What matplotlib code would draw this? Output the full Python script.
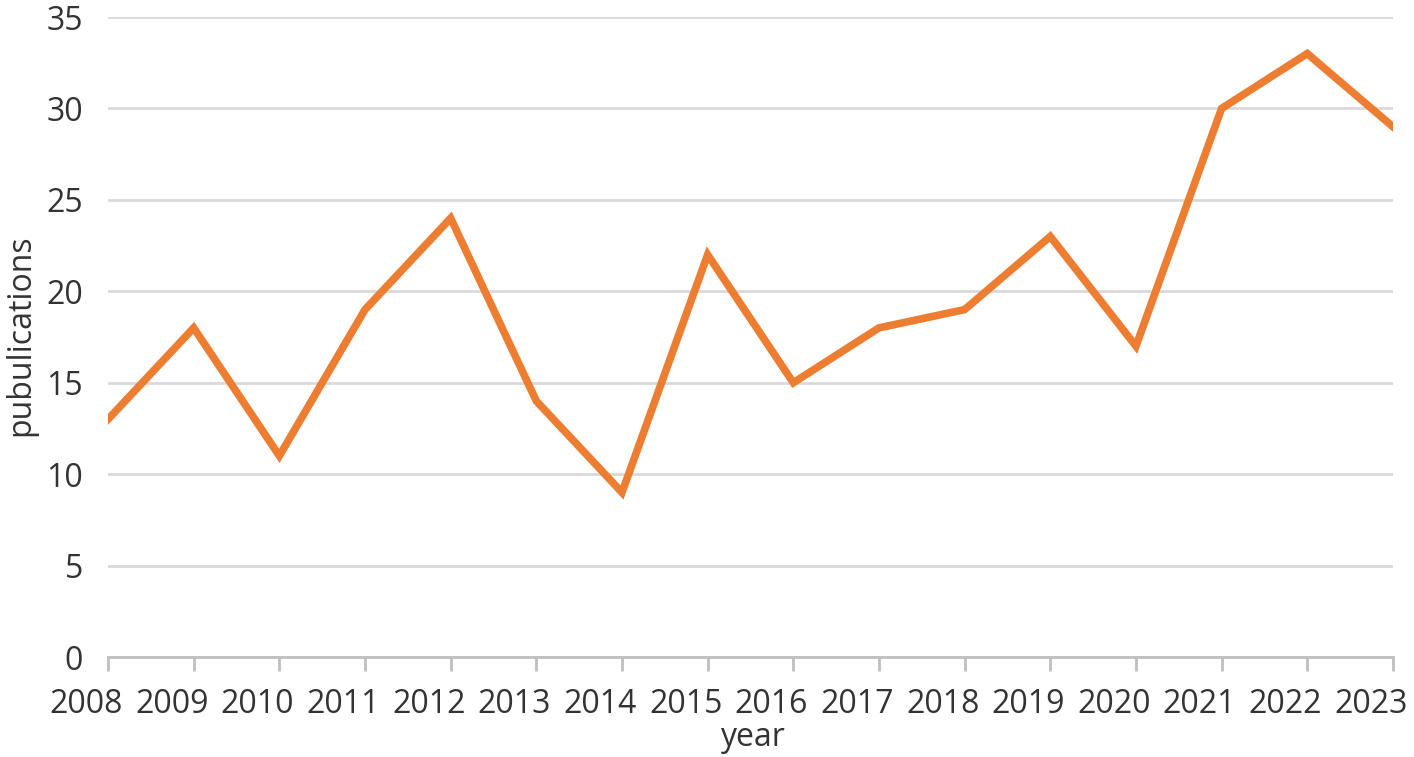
import matplotlib
matplotlib.use("Agg")
import matplotlib.pyplot as plt
import matplotlib.transforms as mtransforms

years = [2008, 2009, 2010, 2011, 2012, 2013, 2014, 2015, 2016, 2017, 2018, 2019, 2020, 2021, 2022, 2023]
publications = [13, 18, 11, 19, 24, 14, 9, 22, 15, 18, 19, 23, 17, 30, 33, 29]
y_ticks = [0, 5, 10, 15, 20, 25, 30, 35]

plt.rcParams['font.family'] = ['Open Sans', 'DejaVu Sans']
text_color = '#333333'

fig = plt.figure(figsize=(14.14, 7.57), dpi=100)
ax = fig.add_axes([0.0764, 0.1321, 0.9087, 0.8454])

ax.plot(years, publications, color='#ED7D31', linewidth=5.5, solid_joinstyle='miter', zorder=3)

ax.set_xlim(years[0], years[-1])
ax.set_ylim(0, 35)
ax.set_yticks(y_ticks)
ax.set_xticks(years)
ax.set_xticklabels([str(y) for y in years])

ax.grid(axis='y', color='#d9d9d9', linewidth=2)
ax.set_axisbelow(True)
for s in ['left', 'right', 'top']:
    ax.spines[s].set_visible(False)
ax.spines['bottom'].set_color('#bfbfbf')
ax.spines['bottom'].set_linewidth(2)

ax.tick_params(axis='x', colors='#bfbfbf', length=10, width=2, direction='out', pad=12,
               labelcolor=text_color, labelsize=23)
ax.tick_params(axis='y', length=0, pad=18, labelcolor=text_color, labelsize=23)

# Shift x tick labels left as in the reference
offset = mtransforms.ScaledTranslation(-22 / 100, 0, fig.dpi_scale_trans)
for lbl in ax.get_xticklabels():
    lbl.set_transform(lbl.get_transform() + offset)

fig.text(752 / 1414, 1 - 738 / 757, 'year', ha='center', va='center', fontsize=23, color=text_color)
fig.text(21 / 1414, 1 - 335 / 757, 'pubulications', ha='center', va='center', rotation=90,
         fontsize=23, color=text_color)

fig.savefig('out.png', dpi=100)
